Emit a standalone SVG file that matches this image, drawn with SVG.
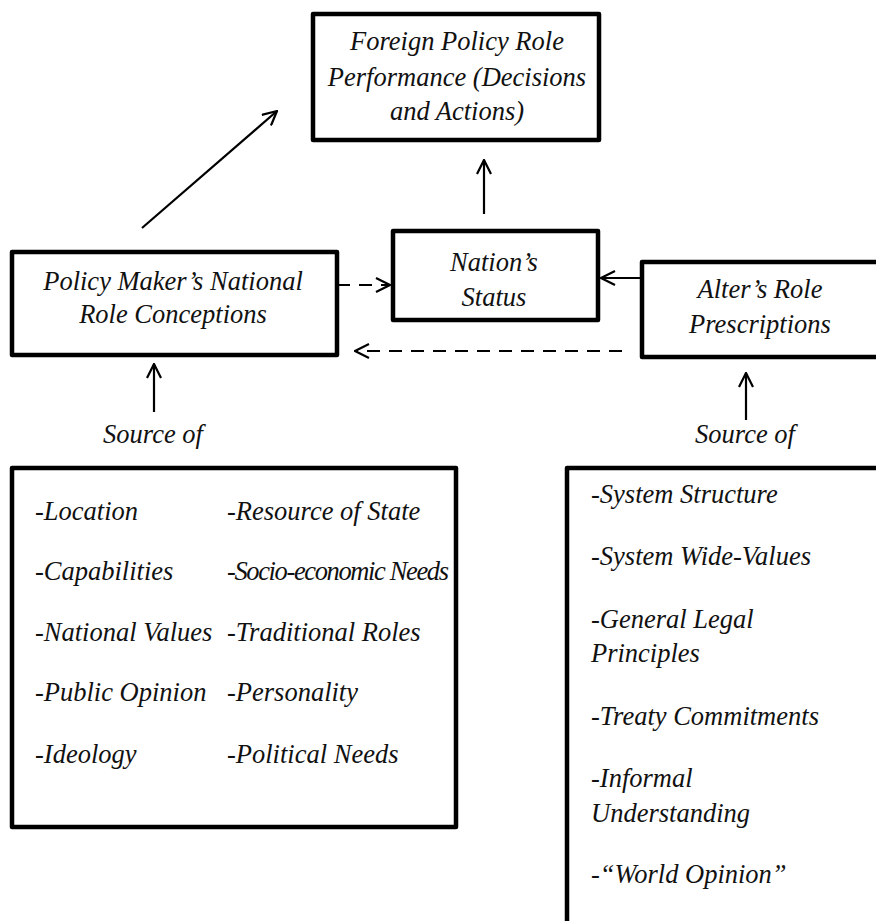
<svg xmlns="http://www.w3.org/2000/svg" width="876" height="921" viewBox="0 0 876 921">
<defs>
<style>
.box{fill:#fff;stroke:#000;stroke-width:4.5;stroke-linejoin:round}
.t{font-family:"Liberation Serif","Times New Roman",serif;font-style:italic;font-size:26.5px;fill:#111}
.c{text-anchor:middle}
.ln{stroke:#000;stroke-width:2.2;fill:none}
.dash{stroke-dasharray:13 9}
</style>
<marker id="ah" viewBox="0 0 16 16" refX="15" refY="8" markerWidth="16" markerHeight="16" markerUnits="userSpaceOnUse" orient="auto">
<path d="M1,1 L15,8 L1,15" fill="none" stroke="#000" stroke-width="2.2"/>
</marker>
</defs>
<rect width="876" height="921" fill="#fff"/>

<g id="connectors">
<line class="ln" x1="142" y1="228" x2="277" y2="111" marker-end="url(#ah)"/>
<line class="ln" x1="484" y1="214" x2="484" y2="160" marker-end="url(#ah)"/>
<line class="ln dash" x1="337" y1="285" x2="390" y2="285" marker-end="url(#ah)"/>
<line class="ln" x1="642" y1="278" x2="601" y2="278" marker-end="url(#ah)"/>
<line class="ln dash" x1="622" y1="351" x2="355" y2="351" marker-end="url(#ah)"/>
<line class="ln" x1="154" y1="412" x2="154" y2="364" marker-end="url(#ah)"/>
<line class="ln" x1="746" y1="420" x2="746" y2="373" marker-end="url(#ah)"/>
</g>

<g id="foreign-policy-role-performance">
<rect class="box" x="313" y="14" width="286" height="126"/>
<text class="t c" x="457" y="50">Foreign Policy Role</text>
<text class="t c" x="457" y="86">Performance (Decisions</text>
<text class="t c" x="457" y="120">and Actions)</text>
</g>

<g id="nations-status">
<rect class="box" x="393" y="231" width="205" height="89"/>
<text class="t c" x="494" y="271">Nation’s</text>
<text class="t c" x="494" y="306">Status</text>
</g>

<g id="policy-maker">
<rect class="box" x="12" y="252" width="325" height="103"/>
<text class="t c" x="173" y="290">Policy Maker’s National</text>
<text class="t c" x="173" y="323">Role Conceptions</text>
</g>

<g id="alters-role">
<rect class="box" x="642" y="262" width="250" height="95"/>
<text class="t c" x="760" y="298">Alter’s Role</text>
<text class="t c" x="760" y="333">Prescriptions</text>
</g>

<g id="source-left">
<text class="t c" x="153" y="443">Source of</text>
</g>
<g id="source-right">
<text class="t c" x="745" y="443">Source of</text>
</g>

<g id="national-sources">
<rect class="box" x="12" y="468" width="444" height="359"/>
<text class="t" x="35" y="520">-Location</text>
<text class="t" x="35" y="580">-Capabilities</text>
<text class="t" x="35" y="641">-National Values</text>
<text class="t" x="35" y="701">-Public Opinion</text>
<text class="t" x="35" y="763">-Ideology</text>
<text class="t" x="227" y="520">-Resource of State</text>
<text class="t" x="227" y="580" textLength="222" lengthAdjust="spacing">-Socio-economic Needs</text>
<text class="t" x="227" y="641">-Traditional Roles</text>
<text class="t" x="227" y="701">-Personality</text>
<text class="t" x="227" y="763">-Political Needs</text>
</g>

<g id="alter-sources">
<rect class="box" x="567" y="468" width="330" height="470"/>
<text class="t" x="591" y="503">-System Structure</text>
<text class="t" x="591" y="565">-System Wide-Values</text>
<text class="t" x="591" y="628">-General Legal</text>
<text class="t" x="591" y="662">Principles</text>
<text class="t" x="591" y="725">-Treaty Commitments</text>
<text class="t" x="591" y="787">-Informal</text>
<text class="t" x="591" y="822">Understanding</text>
<text class="t" x="591" y="883">-“World Opinion”</text>
</g>
</svg>
